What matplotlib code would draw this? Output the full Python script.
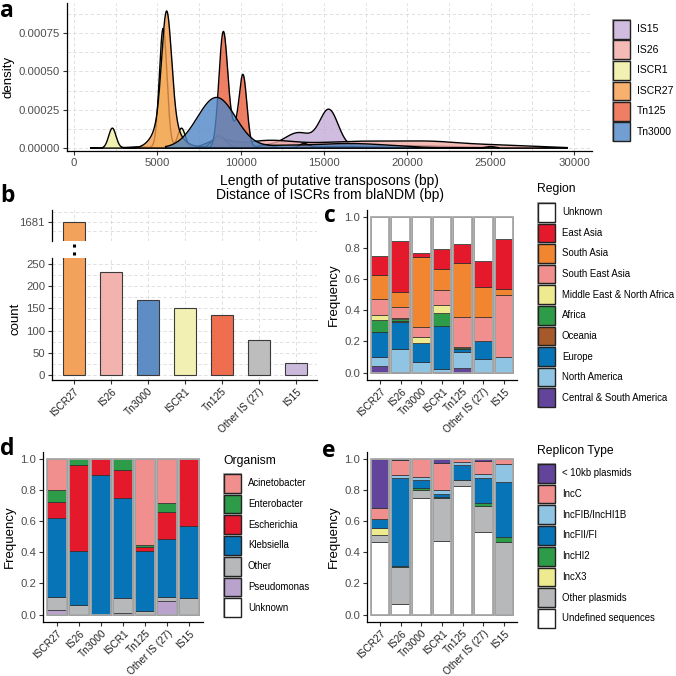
import matplotlib
matplotlib.use("Agg")
import matplotlib.pyplot as plt
import numpy as np
from matplotlib.patches import Rectangle
from matplotlib.lines import Line2D
from matplotlib.ticker import MultipleLocator, FormatStrFormatter

plt.rcParams['font.family'] = ['Liberation Sans', 'DejaVu Sans']

W = H = 676

########## DATA ##########

# panel a: density modes (centre bp, height, width bp)
dens_names = ["IS15", "IS26", "ISCR1", "ISCR27", "Tn125", "Tn3000"]
dens_colors = ["#C3ACD6", "#F2A9A3", "#F1EE9F", "#F59D4A", "#EC5F3C", "#4F86C6"]
dens_ranges = [(6500, 29600), (6000, 29600), (1000, 25500), (3000, 12000), (7000, 20000), (5500, 22000)]
is15_modes = [(11000, 2.0e-5, 2000), (13500, 9.0e-5, 800), (15300, 2.4e-4, 550), (20000, 1.5e-5, 3000)]
is26_modes = [(8700, 5.0e-5, 700), (11500, 4.0e-5, 1500), (17500, 4.5e-5, 3500), (21500, 1.5e-5, 1500), (25000, 1.8e-5, 2500)]
iscr1_modes = [(2300, 1.3e-4, 220), (3800, 8.0e-6, 600), (5350, 7.8e-4, 230), (6450, 1.3e-4, 230), (8700, 8.0e-5, 400), (25000, 1.0e-5, 300)]
iscr27_modes = [(5560, 7.0e-4, 290), (5520, 1.9e-4, 650), (7000, 1.0e-5, 1000)]
tn125_modes = [(8950, 7.2e-4, 260), (9550, 1.2e-4, 400), (10150, 4.4e-4, 230), (11500, 2.0e-5, 400), (13800, 2.5e-5, 250), (16000, 1.0e-5, 2000)]
tn3000_modes = [(8550, 3.3e-4, 1150), (12500, 1.0e-5, 1000), (16500, 3.0e-5, 2500)]
dens_modes = [is15_modes, is26_modes, iscr1_modes, iscr27_modes, tn125_modes, tn3000_modes]

# panel b: counts
elements = ["ISCR27", "IS26", "Tn3000", "ISCR1", "Tn125", "Other IS (27)", "IS15"]
counts = [1681, 231, 168, 150, 136, 78, 28]
count_colors = ["#F4A25B", "#F2B3AE", "#5E8DC6", "#F2F0B2", "#EE6E4F", "#BDBDBD", "#CBB9DC"]

# panel c: region (bottom -> top)
region_labels = ["Central & South America", "North America", "Europe", "Oceania", "Africa",
                 "Middle East & North Africa", "South East Asia", "South Asia", "East Asia", "Unknown"]
region_colors = ["#62449A", "#8FC5E3", "#0874B8", "#A6592A", "#2E9B48",
                 "#EDEA8F", "#F08F8D", "#F28530", "#E41A2C", "#FFFFFF"]
region_freq = [
    [0.043, 0.060, 0.155, 0.006, 0.071, 0.034, 0.103, 0.155, 0.124, 0.249],
    [0.006, 0.144, 0.176, 0.004, 0.013, 0.009, 0.068, 0.100, 0.328, 0.152],
    [0.000, 0.069, 0.124, 0.000, 0.000, 0.034, 0.065, 0.450, 0.026, 0.232],
    [0.003, 0.018, 0.279, 0.000, 0.086, 0.047, 0.095, 0.137, 0.129, 0.206],
    [0.030, 0.099, 0.021, 0.002, 0.008, 0.005, 0.191, 0.348, 0.124, 0.172],
    [0.000, 0.086, 0.116, 0.000, 0.000, 0.000, 0.154, 0.193, 0.168, 0.283],
    [0.000, 0.103, 0.000, 0.000, 0.000, 0.000, 0.395, 0.038, 0.322, 0.142],
]

# panel d: organism (bottom -> top)
org_labels = ["Unknown", "Pseudomonas", "Other", "Klebsiella", "Escherichia", "Enterobacter", "Acinetobacter"]
org_colors = ["#FFFFFF", "#B9A2CC", "#B6B8BA", "#0874B8", "#E41A2C", "#2E9B48", "#F08F8D"]
org_freq = [
    [0.0, 0.032, 0.082, 0.510, 0.101, 0.075, 0.200],
    [0.0, 0.000, 0.060, 0.349, 0.554, 0.037, 0.000],
    [0.0, 0.000, 0.000, 0.895, 0.105, 0.000, 0.000],
    [0.0, 0.013, 0.095, 0.645, 0.180, 0.067, 0.000],
    [0.0, 0.000, 0.022, 0.387, 0.025, 0.011, 0.555],
    [0.0, 0.090, 0.026, 0.372, 0.170, 0.062, 0.280],
    [0.0, 0.000, 0.108, 0.464, 0.428, 0.000, 0.000],
]

# panel e: replicon type (bottom -> top)
rep_labels = ["Undefined sequences", "Other plasmids", "IncX3", "IncHI2", "IncFII/FI",
              "IncFIB/IncHI1B", "IncC", "< 10kb plasmids"]
rep_colors = ["#FFFFFF", "#B6B8BA", "#EDEA8F", "#2E9B48", "#0874B8", "#8FC5E3", "#F08F8D", "#62449A"]
rep_freq = [
    [0.470, 0.039, 0.047, 0.000, 0.062, 0.000, 0.069, 0.313],
    [0.071, 0.232, 0.000, 0.012, 0.563, 0.017, 0.099, 0.006],
    [0.753, 0.047, 0.000, 0.013, 0.056, 0.013, 0.118, 0.000],
    [0.476, 0.273, 0.000, 0.008, 0.018, 0.025, 0.172, 0.028],
    [0.830, 0.039, 0.000, 0.000, 0.095, 0.017, 0.019, 0.000],
    [0.530, 0.167, 0.000, 0.018, 0.163, 0.025, 0.086, 0.011],
    [0.000, 0.466, 0.000, 0.034, 0.356, 0.110, 0.034, 0.000],
]

TICK_C = "#4d4d4d"
TICK_FS = 8.2
XROT_FS = 7.3
TITLE_FS = 9.5
GRID = dict(color="#dadada", lw=0.6, ls=(0, (4, 3)))

fig = plt.figure(figsize=(6.76, 6.76), dpi=100)


def box(x0, y0, x1, y1):
    return [x0 / W, 1 - y1 / H, (x1 - x0) / W, (y1 - y0) / H]


def style(ax):
    for s in ["top", "right"]:
        ax.spines[s].set_visible(False)
    for s in ["left", "bottom"]:
        ax.spines[s].set_linewidth(0.9)
    ax.tick_params(labelsize=TICK_FS, labelcolor=TICK_C, color="#333333", length=3, width=0.8, pad=2)


def legend_keys(x0, y0, kh, labels, colors, title=None, title_y=None, fs=6.9, alpha=1.0):
    if title:
        fig.text(x0 / W, 1 - title_y / H, title, fontsize=8.7, va="center", ha="left")
    for i, (lab, col) in enumerate(zip(labels, colors)):
        top = y0 + i * kh
        inner = ((x0 + 1) / W, 1 - (top + kh - 1) / H)
        fig.patches.append(Rectangle((x0 / W, 1 - (top + kh) / H), 19 / W, kh / H,
                                     transform=fig.transFigure, facecolor="#aaaaaa", edgecolor="none"))
        fig.patches.append(Rectangle(inner, 17 / W, (kh - 2) / H, transform=fig.transFigure,
                                     facecolor="white", edgecolor="none"))
        fig.patches.append(Rectangle(inner, 17 / W, (kh - 2) / H, transform=fig.transFigure,
                                     facecolor=col, alpha=alpha, edgecolor="none"))
        fig.patches.append(Rectangle(inner, 17 / W, (kh - 2) / H, transform=fig.transFigure,
                                     facecolor="none", edgecolor="#222222", lw=1.0))
        fig.text((x0 + 25) / W, 1 - (top + kh / 2) / H, lab, fontsize=fs, va="center", ha="left")


def rot_labels(ax):
    ax.set_xticks(np.arange(len(elements)))
    ax.set_xticklabels(elements, rotation=45, ha="right", va="top", rotation_mode="anchor")
    ax.tick_params(axis="x", labelsize=XROT_FS, labelcolor="#222222", pad=1.5)


def stacked(ax, fracs, colors):
    fr = np.array(fracs)
    fr = fr / fr.sum(axis=1, keepdims=True)
    pos = np.arange(len(fr))
    bottom = np.zeros(len(fr))
    for j in range(fr.shape[1]):
        m = fr[:, j] > 0
        ax.bar(pos[m], fr[m, j], width=0.9, bottom=bottom[m], color=colors[j],
               edgecolor="#2b2b2b", lw=0.5, zorder=2)
        bottom += fr[:, j]
    ax.bar(pos, bottom, width=0.9, fill=False, edgecolor="#a8a8a8", lw=1.3, zorder=3)
    ax.set_xlim(-0.63, 6.62)
    ax.set_ylim(-0.048, 1.046)
    ax.yaxis.set_major_locator(MultipleLocator(0.2))
    ax.yaxis.set_major_formatter(FormatStrFormatter("%.1f"))
    style(ax)
    rot_labels(ax)
    ax.set_ylabel("Frequency", fontsize=TITLE_FS, labelpad=3)


########## PANEL A ##########
ax = fig.add_axes(box(67, 3, 592, 151))
for k, (name, col, modes, (lo, hi)) in enumerate(zip(dens_names, dens_colors, dens_modes, dens_ranges)):
    x = np.linspace(lo, hi, 800)
    y = np.zeros_like(x)
    for c, h, w in modes:
        y += h * np.exp(-0.5 * ((x - c) / w) ** 2)
    ax.fill_between(x, y, color=col, alpha=0.8, lw=0, zorder=2 + k)
    ax.plot(np.r_[x, x[::-1], x[0]], np.r_[y, np.zeros_like(x), y[0]], color="black", lw=1.0, zorder=2 + k)
ax.set_xlim(-420, 31080)
ax.set_ylim(-1.88e-5, 9.45e-4)
ax.xaxis.set_major_locator(MultipleLocator(5000))
ax.xaxis.set_minor_locator(MultipleLocator(2500))
ax.yaxis.set_major_locator(MultipleLocator(0.00025))
ax.yaxis.set_minor_locator(MultipleLocator(0.000125))
ax.yaxis.set_major_formatter(FormatStrFormatter("%.5f"))
ax.tick_params(which="minor", length=0)
ax.grid(which="both", **GRID)
ax.set_axisbelow(True)
style(ax)
ax.set_ylabel("density", fontsize=TITLE_FS, labelpad=3)
ax.set_xlabel("Length of putative transposons (bp)\nDistance of ISCRs from blaNDM (bp)", fontsize=10,
              linespacing=1.0, labelpad=4)
legend_keys(612, 19, 20.5, dens_names, dens_colors, fs=7.5, alpha=0.8)

########## PANEL B ##########
pos = np.arange(len(elements))
axt = fig.add_axes(box(52, 210, 317, 241))
axb = fig.add_axes(box(52, 258, 317, 380))
for a in (axt, axb):
    a.bar(pos, counts, width=0.6, color=count_colors, edgecolor="#3a3a3a", lw=0.8, zorder=2)
    a.set_xlim(-0.59, 6.57)
    a.grid(which="both", **GRID)
    a.set_axisbelow(True)
    style(a)
    a.tick_params(which="minor", length=0)
axt.set_ylim(1650, 1700)
axt.set_yticks([1681])
axt.set_yticks([1666, 1696], minor=True)
axt.spines["bottom"].set_visible(False)
axt.set_xticks(pos)
axt.tick_params(axis="x", length=0, labelbottom=False)
axb.set_ylim(-11.3, 263.5)
axb.yaxis.set_major_locator(MultipleLocator(50))
axb.yaxis.set_minor_locator(MultipleLocator(25))
rot_labels(axb)
axb.set_ylabel("count", fontsize=TITLE_FS, labelpad=3)
fig.add_artist(Line2D([74 / W, 74 / W], [1 - 244 / H, 1 - 257 / H], ls=(0, (1, 1.6)), lw=2.2, color="black"))

########## PANEL C ##########
axc = fig.add_axes(box(367, 210, 517, 380))
stacked(axc, region_freq, region_colors)
legend_keys(537, 202, 20.6, region_labels[::-1], region_colors[::-1], title="Region", title_y=189)

########## PANEL D ##########
axd = fig.add_axes(box(43, 452, 203, 622))
stacked(axd, org_freq, org_colors)
legend_keys(223, 473, 20.7, org_labels[::-1], org_colors[::-1], title="Organism", title_y=461)

########## PANEL E ##########
axe = fig.add_axes(box(367, 452, 517, 622))
stacked(axe, rep_freq, rep_colors)
legend_keys(537, 463, 20.7, rep_labels[::-1], rep_colors[::-1], title="Replicon Type", title_y=451)

########## PANEL LETTERS ##########
for lab, x, y in [("a", 0, 17), ("b", 0, 202), ("c", 324, 222), ("d", 0, 455), ("e", 322, 457)]:
    fig.text(x / W, 1 - y / H, lab, fontsize=16.5, fontweight="bold", family="Open Sans",
             ha="left", va="baseline")

fig.savefig("out.png", dpi=100)
